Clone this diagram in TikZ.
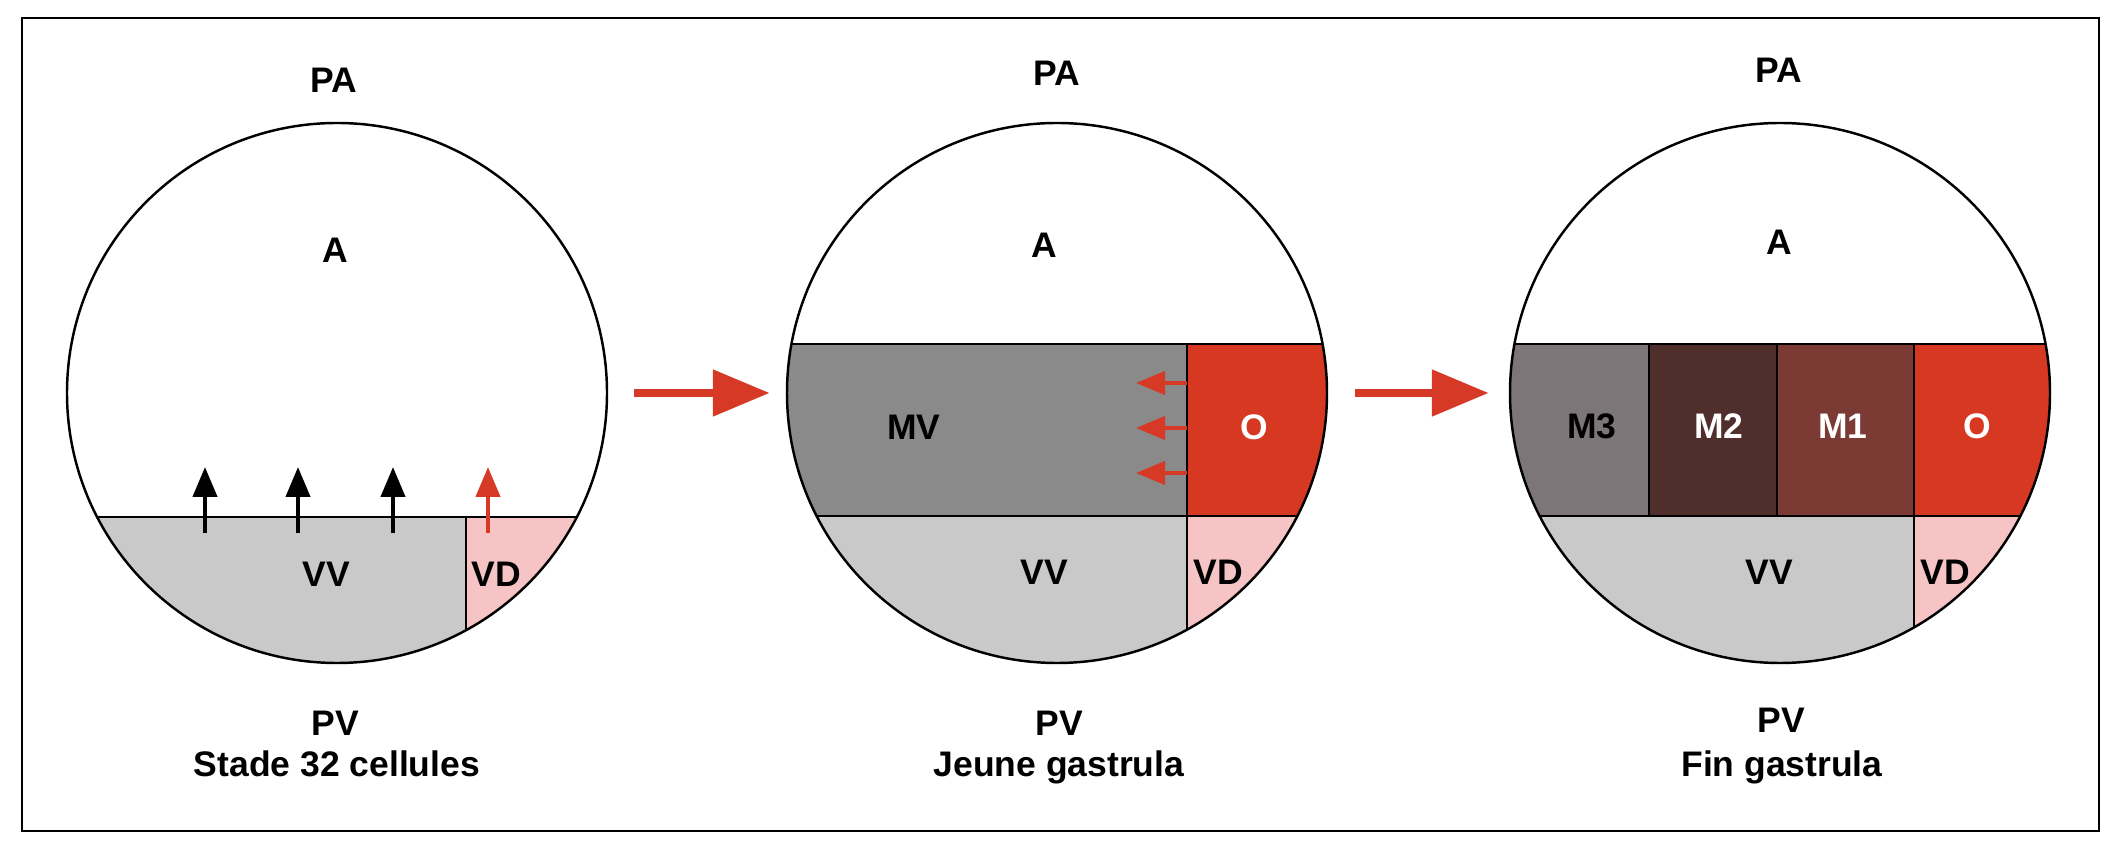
\documentclass[tikz,border=0pt]{standalone}
\usepackage{fontspec}
\setmainfont{Liberation Sans}
\usepackage{tikz}
\usetikzlibrary{arrows.meta, positioning, calc}

\definecolor{vvgray}{RGB}{201,201,201}
\definecolor{vdpink}{RGB}{246,196,196}
\definecolor{mvgray}{RGB}{138,138,138}
\definecolor{ored}{RGB}{214,56,34}
\definecolor{mthree}{RGB}{124,118,120}
\definecolor{mtwo}{RGB}{80,46,44}
\definecolor{mone}{RGB}{124,58,52}
\definecolor{arrred}{RGB}{214,58,38}

\begin{document}
\begin{tikzpicture}[
  embryo/.style={draw, circle, line width=0.7pt, minimum size=5.4cm, inner sep=0pt},
  lbl/.style={font=\fontsize{10.1}{12}\selectfont\bfseries, inner sep=0pt, anchor=base},
  wlbl/.style={lbl, text=white},
  wall/.style={draw=black, line width=0.55pt},
  bigarr/.style={-{Triangle[length=5.7mm, width=4.5mm]}, line width=0.85mm, draw=arrred},
  uparr/.style={-{Triangle[length=3.0mm, width=2.4mm]}, line width=1.2pt},
  inarr/.style={-{Triangle[length=2.9mm, width=2.3mm]}, line width=1.2pt, draw=arrred}
]
  \useasboundingbox (0,0) rectangle (21.24,8.60);
  \draw[line width=0.6pt] (0.22,0.29) rectangle (20.99,8.42);

  % stade 32 cellules
  \begin{scope}
    \clip (3.37,4.67) circle (2.7);
    \fill[vvgray] (0.6,1.9) rectangle (4.66,3.43);
    \fill[vdpink] (4.66,1.9) rectangle (6.1,3.43);
    \draw[wall] (0.6,3.43) -- (6.1,3.43);
    \draw[wall] (4.66,3.43) -- (4.66,1.9);
  \end{scope}
  \node[embryo] (e1) at (3.37,4.67) {};
  \draw[uparr] (2.05,3.27) -- (2.05,3.93);
  \draw[uparr] (2.98,3.27) -- (2.98,3.93);
  \draw[uparr] (3.93,3.27) -- (3.93,3.93);
  \draw[uparr, arrred] (4.88,3.27) -- (4.88,3.93);
  \node[lbl] (pa1) at (3.34,7.67) {PA};
  \node[lbl] (a1)  at (3.35,5.97) {A};
  \node[lbl] (vv1) at (3.26,2.73) {VV};
  \node[lbl] (vd1) at (4.96,2.73) {VD};
  \node[lbl] (pv1) at (3.35,1.24) {PV};
  \node[lbl] (st1) at (3.37,0.83) {Stade 32 cellules};

  % jeune gastrula
  \begin{scope}
    \clip (10.57,4.67) circle (2.7);
    \fill[mvgray] (7.8,3.44) rectangle (11.87,5.16);
    \fill[ored] (11.87,3.44) rectangle (13.4,5.16);
    \fill[vvgray] (7.8,1.9) rectangle (11.87,3.44);
    \fill[vdpink] (11.87,1.9) rectangle (13.4,3.44);
    \draw[wall] (7.8,5.16) -- (13.4,5.16);
    \draw[wall] (7.8,3.44) -- (13.4,3.44);
    \draw[wall] (11.87,5.16) -- (11.87,1.9);
  \end{scope}
  \node[embryo] (e2) at (10.57,4.67) {};
  \draw[inarr] (11.87,4.77) -- (11.36,4.77);
  \draw[inarr] (11.87,4.32) -- (11.36,4.32);
  \draw[inarr] (11.87,3.87) -- (11.36,3.87);
  \node[lbl]  (pa2) at (10.57,7.74) {PA};
  \node[lbl]  (a2)  at (10.44,6.02) {A};
  \node[lbl]  (mv2) at (9.14,4.20) {MV};
  \node[wlbl] (o2)  at (12.54,4.20) {O};
  \node[lbl]  (vv2) at (10.44,2.75) {VV};
  \node[lbl]  (vd2) at (12.18,2.75) {VD};
  \node[lbl]  (pv2) at (10.59,1.25) {PV};
  \node[lbl]  (st2) at (10.59,0.83) {Jeune gastrula};

  % fin gastrula
  \begin{scope}
    \clip (17.80,4.67) circle (2.7);
    \fill[mthree] (15.0,3.44) rectangle (16.49,5.16);
    \fill[mtwo] (16.49,3.44) rectangle (17.77,5.16);
    \fill[mone] (17.77,3.44) rectangle (19.14,5.16);
    \fill[ored] (19.14,3.44) rectangle (20.6,5.16);
    \fill[vvgray] (15.0,1.9) rectangle (19.14,3.44);
    \fill[vdpink] (19.14,1.9) rectangle (20.6,3.44);
    \draw[wall] (15.0,5.16) -- (20.6,5.16);
    \draw[wall] (15.0,3.44) -- (20.6,3.44);
    \draw[wall] (16.49,5.16) -- (16.49,3.44);
    \draw[wall] (17.77,5.16) -- (17.77,3.44);
    \draw[wall] (19.14,5.16) -- (19.14,1.9);
  \end{scope}
  \node[embryo] (e3) at (17.80,4.67) {};
  \node[lbl]  (pa3) at (17.79,7.77) {PA};
  \node[lbl]  (a3)  at (17.79,6.05) {A};
  \node[lbl]  (m3)  at (15.92,4.21) {M3};
  \node[wlbl] (m2)  at (17.19,4.21) {M2};
  \node[wlbl] (m1)  at (18.43,4.21) {M1};
  \node[wlbl] (o3)  at (19.77,4.21) {O};
  \node[lbl]  (vv3) at (17.69,2.75) {VV};
  \node[lbl]  (vd3) at (19.45,2.75) {VD};
  \node[lbl]  (pv3) at (17.81,1.27) {PV};
  \node[lbl]  (st3) at (17.82,0.83) {Fin gastrula};

  \draw[bigarr] ([xshift=2.6mm]e1.east) -- ([xshift=-1.6mm]e2.west);
  \draw[bigarr] ([xshift=2.7mm]e2.east) -- ([xshift=-2mm]e3.west);
\end{tikzpicture}
\end{document}
